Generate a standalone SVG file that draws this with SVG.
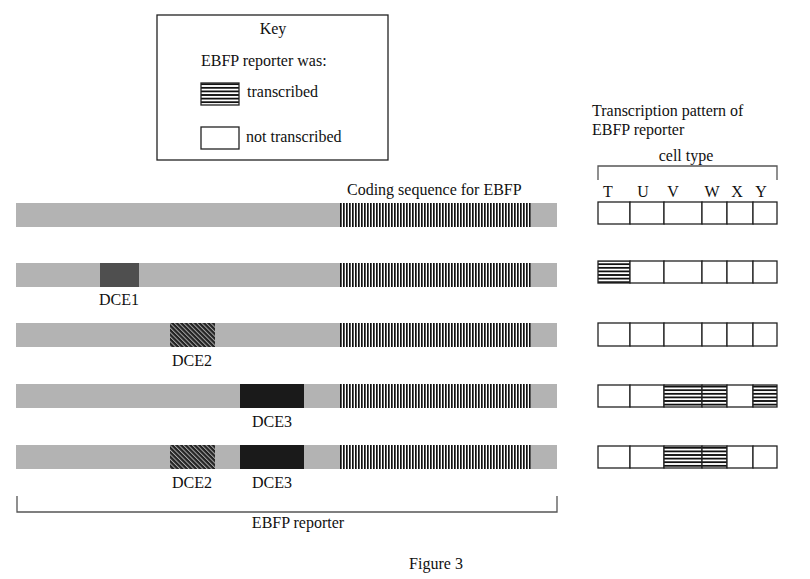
<svg xmlns="http://www.w3.org/2000/svg" width="810" height="579" viewBox="0 0 810 579">
<style>
text{font-family:"Liberation Serif","Times New Roman",serif;font-size:16px;fill:#111}
.bar{fill:#b3b3b3}
.code{fill:url(#vstripe)}
.cell{fill:#fff;stroke:#222;stroke-width:1.3}
.on{fill:url(#hstripe);stroke:#222;stroke-width:1.3}
.br{fill:none;stroke:#555;stroke-width:1.3}
</style>
<defs>
<pattern id="vstripe" patternUnits="userSpaceOnUse" x="340" y="0" width="3" height="10">
<rect width="3" height="10" fill="#fff"/>
<rect width="1.7" height="10" fill="#111"/>
</pattern>
<pattern id="hstripe" patternUnits="userSpaceOnUse" x="0" y="0.5" width="10" height="3.6">
<rect width="10" height="3.6" fill="#fff"/>
<rect width="10" height="1.8" fill="#111"/>
</pattern>
<pattern id="diag" patternUnits="userSpaceOnUse" width="3.2" height="3.2" patternTransform="rotate(-45)">
<rect width="3.2" height="3.2" fill="#222"/>
<rect width="1" height="3.2" fill="#aaa"/>
</pattern>
</defs>

<g id="key">
<rect x="157" y="15" width="231" height="145" fill="#fff" stroke="#222" stroke-width="1.3"/>
<text x="273" y="34" text-anchor="middle">Key</text>
<text x="201" y="66">EBFP reporter was:</text>
<rect x="201" y="83" width="38" height="22" class="on"/>
<text x="247" y="97">transcribed</text>
<rect x="201" y="127" width="38" height="22" class="cell"/>
<text x="246" y="142">not transcribed</text>
</g>

<g id="coding-label"><text x="347" y="195">Coding sequence for EBFP</text></g>

<g id="construct1">
<rect class="bar" x="16" y="203" width="541" height="24"/>
<rect class="code" x="340" y="203" width="191" height="24"/>
</g>
<g id="construct2">
<rect class="bar" x="16" y="263" width="541" height="24"/>
<rect class="code" x="340" y="263" width="191" height="24"/>
<rect x="100" y="263" width="39" height="24" fill="#4f4f4f"/>
<text x="119" y="305" text-anchor="middle">DCE1</text>
</g>
<g id="construct3">
<rect class="bar" x="16" y="323" width="541" height="24"/>
<rect class="code" x="340" y="323" width="191" height="24"/>
<rect x="170" y="323" width="45" height="24" fill="url(#diag)"/>
<text x="192" y="366" text-anchor="middle">DCE2</text>
</g>
<g id="construct4">
<rect class="bar" x="16" y="384" width="541" height="24"/>
<rect class="code" x="340" y="384" width="191" height="24"/>
<rect x="240" y="384" width="64" height="24" fill="#1a1a1a"/>
<text x="272" y="427" text-anchor="middle">DCE3</text>
</g>
<g id="construct5">
<rect class="bar" x="16" y="445" width="541" height="24"/>
<rect class="code" x="340" y="445" width="191" height="24"/>
<rect x="170" y="445" width="45" height="24" fill="url(#diag)"/>
<rect x="240" y="445" width="64" height="24" fill="#1a1a1a"/>
<text x="192" y="488" text-anchor="middle">DCE2</text>
<text x="272" y="488" text-anchor="middle">DCE3</text>
</g>

<g id="reporter-bracket">
<path class="br" d="M17,496 V512 H557 V496"/>
<text x="298" y="528" text-anchor="middle">EBFP reporter</text>
</g>

<g id="pattern-header">
<text x="592" y="116">Transcription pattern of</text>
<text x="592" y="135">EBFP reporter</text>
<text x="686" y="161" text-anchor="middle">cell type</text>
<path class="br" d="M598,180 V166 H777 V180"/>
<text x="608" y="197" text-anchor="middle">T</text>
<text x="643" y="197" text-anchor="middle">U</text>
<text x="673" y="197" text-anchor="middle">V</text>
<text x="712" y="197" text-anchor="middle">W</text>
<text x="737" y="197" text-anchor="middle">X</text>
<text x="761" y="197" text-anchor="middle">Y</text>
</g>

<g id="pattern1">
<rect class="cell" x="598" y="202" width="32" height="22"/><rect class="cell" x="630" y="202" width="34" height="22"/><rect class="cell" x="664" y="202" width="38" height="22"/><rect class="cell" x="702" y="202" width="25" height="22"/><rect class="cell" x="727" y="202" width="26" height="22"/><rect class="cell" x="753" y="202" width="24" height="22"/>
</g>
<g id="pattern2">
<rect class="on" x="598" y="261" width="32" height="22"/><rect class="cell" x="630" y="261" width="34" height="22"/><rect class="cell" x="664" y="261" width="38" height="22"/><rect class="cell" x="702" y="261" width="25" height="22"/><rect class="cell" x="727" y="261" width="26" height="22"/><rect class="cell" x="753" y="261" width="24" height="22"/>
</g>
<g id="pattern3">
<rect class="cell" x="598" y="323" width="32" height="23"/><rect class="cell" x="630" y="323" width="34" height="23"/><rect class="cell" x="664" y="323" width="38" height="23"/><rect class="cell" x="702" y="323" width="25" height="23"/><rect class="cell" x="727" y="323" width="26" height="23"/><rect class="cell" x="753" y="323" width="24" height="23"/>
</g>
<g id="pattern4">
<rect class="cell" x="598" y="385" width="32" height="22"/><rect class="cell" x="630" y="385" width="34" height="22"/><rect class="on" x="664" y="385" width="38" height="22"/><rect class="on" x="702" y="385" width="25" height="22"/><rect class="cell" x="727" y="385" width="26" height="22"/><rect class="on" x="753" y="385" width="24" height="22"/>
</g>
<g id="pattern5">
<rect class="cell" x="598" y="446" width="32" height="22"/><rect class="cell" x="630" y="446" width="34" height="22"/><rect class="on" x="664" y="446" width="38" height="22"/><rect class="on" x="702" y="446" width="25" height="22"/><rect class="cell" x="727" y="446" width="26" height="22"/><rect class="cell" x="753" y="446" width="24" height="22"/>
</g>

<g id="caption"><text x="436" y="569" text-anchor="middle">Figure 3</text></g>
</svg>
